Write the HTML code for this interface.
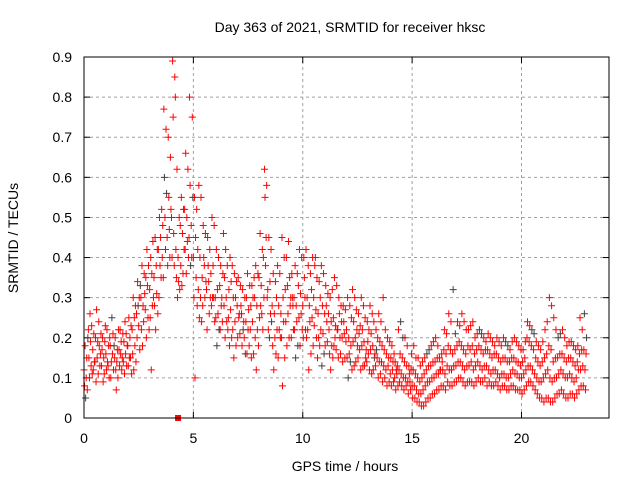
<!DOCTYPE html>
<html><head><meta charset="utf-8"><style>
body{margin:0;background:#fff}
svg text{font-family:"Liberation Sans",sans-serif;font-size:14px;fill:#000}
</style></head><body>
<svg id="chart" width="640" height="480" xmlns="http://www.w3.org/2000/svg">
<rect width="640" height="480" fill="#fff"/>
<text x="350" y="32" text-anchor="middle">Day 363 of 2021, SRMTID for receiver hksc</text>
<text transform="translate(18,238) rotate(-90)" text-anchor="middle">SRMTID / TECUs</text>
<text x="345" y="471" text-anchor="middle">GPS time / hours</text>
<g id="grid"></g>
<g id="ticks"></g>
<g id="points"></g>
<rect x="84" y="57" width="525" height="361" fill="none" stroke="#000" stroke-width="1"/>
</svg>
<script>
const xTicks=[0,5,10,15,20];
const yTicks=[0,0.1,0.2,0.3,0.4,0.5,0.6,0.7,0.8,0.9];
const yTickLabels=["0","0.1","0.2","0.3","0.4","0.5","0.6","0.7","0.8","0.9"];
const times=[0.0,0.2,0.4,0.6,0.8,1.0,1.2,1.4,1.6,1.8,2.0,2.2,2.4,2.6,2.8,3.0,3.2,3.4,3.6,3.8,4.0,4.2,4.4,4.6,4.8,5.0,5.2,5.4,5.6,5.8,6.0,6.2,6.4,6.6,6.8,7.0,7.2,7.4,7.6,7.8,8.0,8.2,8.4,8.6,8.8,9.0,9.2,9.4,9.6,9.8,10.0,10.2,10.4,10.6,10.8,11.0,11.2,11.4,11.6,11.8,12.0,12.2,12.4,12.6,12.8,13.0,13.2,13.4,13.6,13.8,14.0,14.2,14.4,14.6,14.8,15.0,15.2,15.4,15.6,15.8,16.0,16.2,16.4,16.6,16.8,17.0,17.2,17.4,17.6,17.8,18.0,18.2,18.4,18.6,18.8,19.0,19.2,19.4,19.6,19.8,20.0,20.2,20.4,20.6,20.8,21.0,21.2,21.4,21.6,21.8,22.0,22.2,22.4,22.6,22.8];
const obs=[[.12,.08,.18,.05],[.22,.15,.10,.26],[.17,.12,.21,.14],[.15,.19,.11,.24],[.13,.17,.20,.09],[.16,.12,.22,.14],[.18,.10,.14,.25],[.15,.20,.12,.07],[.17,.13,.22,.16],[.14,.19,.11,.24],
[.18,.13,.25,.15],[.22,.16,.30,.12],[.26,.20,.34,.28],[.30,.22,.38,.18],[.27,.35,.20,.42],[.32,.25,.40,.12],[.35,.28,.45,.22],[.42,.30,.50,.38],[.48,.35,.77,.60],[.45,.38,.70,.55],
[.50,.40,.89,.75],[.42,.35,.62,.30],[.48,.38,.55,.33],[.52,.42,.66,.36],[.45,.80,.58,.38],[.40,.30,.55,.10],[.42,.32,.58,.25],[.35,.28,.48,.40],[.32,.22,.45,.38],[.36,.28,.50,.30],
[.30,.25,.42,.18],[.33,.22,.38,.28],[.28,.35,.20,.42],[.25,.32,.18,.40],[.22,.30,.15,.36],[.28,.20,.35,.25],[.26,.18,.32,.22],[.24,.30,.16,.36],[.22,.28,.15,.33],[.30,.20,.38,.12],
[.35,.25,.46,.28],[.40,.30,.62,.55],[.32,.22,.45,.20],[.28,.18,.36,.12],[.30,.22,.38,.15],[.26,.20,.45,.08],[.32,.24,.40,.18],[.35,.28,.30,.20],[.30,.22,.38,.15],[.33,.25,.42,.18],
[.28,.20,.40,.35],[.30,.22,.38,.12],[.32,.25,.40,.18],[.27,.20,.35,.15],[.30,.22,.38,.13],[.26,.18,.33,.28],[.22,.16,.30,.12],[.25,.18,.35,.20],[.22,.15,.30,.26],[.20,.14,.28,.24],
[.22,.15,.30,.10],[.18,.25,.12,.32],[.20,.14,.27,.22],[.17,.23,.12,.30],[.19,.13,.25,.15],[.16,.22,.12,.28],[.18,.12,.24,.15],[.15,.20,.10,.26],[.14,.18,.09,.30],[.12,.16,.08,.20],
[.11,.15,.08,.18],[.10,.14,.07,.12],[.12,.09,.16,.24],[.10,.07,.14,.20],[.09,.06,.13,.11],[.08,.05,.12,.18],[.07,.04,.10,.15],[.06,.03,.10,.14],[.08,.04,.12,.16],[.09,.05,.13,.18],
[.10,.06,.14,.20],[.11,.07,.15,.12],[.12,.08,.17,.22],[.13,.09,.18,.26],[.12,.08,.16,.32],[.13,.09,.18,.24],[.14,.10,.18,.26],[.12,.08,.16,.22],[.13,.09,.17,.23],[.12,.08,.16,.20],
[.14,.10,.18,.22],[.12,.09,.16,.20],[.13,.08,.17,.21],[.11,.08,.15,.19],[.12,.09,.16,.20],[.10,.07,.14,.18],[.11,.08,.15,.19],[.10,.07,.14,.17],[.12,.08,.15,.20],[.11,.07,.14,.18],
[.10,.06,.14,.17],[.12,.08,.20,.24],[.13,.09,.18,.22],[.11,.07,.15,.19],[.09,.05,.13,.17],[.10,.04,.15,.22],[.12,.05,.18,.30],[.09,.04,.14,.25],[.10,.06,.15,.20],[.12,.07,.16,.22],
[.10,.05,.14,.18],[.11,.06,.15,.19],[.09,.05,.13,.17],[.12,.07,.16,.25],[.13,.08,.17,.26]];
const obs2=[[.10,.15,.07,.20],[.19,.13,.23,.11],[.14,.20,.09,.27],[.18,.13,.16,.21],[.15,.11,.19,.23],[.13,.18,.10,.20],[.16,.21,.12,.18],[.14,.17,.10,.22],[.19,.12,.15,.21],[.16,.21,.13,.18],
[.20,.15,.23,.11],[.25,.18,.28,.14],[.23,.30,.17,.33],[.28,.24,.36,.31],[.33,.25,.38,.22],[.36,.28,.44,.30],[.38,.31,.42,.26],[.45,.35,.52,.40],[.50,.42,.72,.56],[.47,.40,.65,.52],
[.46,.38,.85,.80],[.40,.34,.50,.32],[.46,.36,.52,.42],[.50,.44,.62,.40],[.48,.40,.75,.55],[.45,.35,.52,.28],[.40,.30,.55,.24],[.38,.30,.46,.34],[.34,.26,.42,.30],[.38,.30,.48,.24],
[.32,.26,.40,.22],[.30,.24,.36,.46],[.30,.24,.38,.22],[.27,.34,.20,.38],[.24,.30,.18,.34],[.26,.21,.33,.28],[.24,.20,.30,.16],[.22,.27,.18,.33],[.24,.30,.16,.35],[.28,.22,.36,.18],
[.33,.26,.42,.22],[.38,.45,.58,.30],[.34,.26,.42,.24],[.26,.20,.34,.16],[.28,.22,.36,.20],[.30,.24,.40,.15],[.33,.26,.44,.20],[.36,.30,.28,.22],[.28,.24,.36,.18],[.31,.26,.40,.22],
[.30,.22,.42,.20],[.28,.24,.36,.16],[.30,.23,.38,.40],[.26,.20,.34,.18],[.28,.21,.36,.16],[.24,.19,.31,.26],[.24,.18,.32,.15],[.23,.17,.33,.22],[.20,.16,.28,.24],[.21,.15,.27,.19],
[.20,.16,.28,.14],[.19,.24,.13,.30],[.18,.15,.26,.21],[.18,.22,.13,.28],[.17,.14,.24,.19],[.17,.21,.11,.26],[.16,.13,.22,.17],[.14,.19,.11,.24],[.13,.17,.10,.22],[.13,.15,.09,.19],
[.12,.14,.09,.16],[.11,.13,.08,.22],[.11,.08,.15,.20],[.10,.08,.13,.18],[.09,.07,.12,.16],[.08,.05,.11,.15],[.06,.04,.09,.13],[.07,.03,.11,.15],[.09,.05,.13,.17],[.10,.06,.14,.19],
[.11,.07,.15,.18],[.12,.08,.16,.14],[.11,.07,.16,.21],[.12,.08,.17,.24],[.13,.09,.17,.21],[.14,.10,.19,.23],[.13,.09,.17,.24],[.13,.09,.18,.22],[.14,.09,.18,.24],[.13,.09,.17,.21],
[.13,.09,.17,.21],[.13,.10,.17,.19],[.12,.09,.16,.20],[.12,.08,.16,.18],[.11,.08,.15,.19],[.11,.08,.15,.20],[.10,.07,.14,.18],[.11,.08,.15,.19],[.11,.07,.14,.19],[.10,.07,.13,.17],
[.11,.07,.15,.19],[.13,.09,.19,.23],[.12,.08,.17,.21],[.10,.06,.14,.18],[.09,.05,.14,.19],[.11,.05,.16,.24],[.10,.04,.17,.28],[.10,.05,.15,.22],[.11,.06,.16,.21],[.11,.06,.15,.20],
[.10,.05,.15,.19],[.10,.06,.14,.18],[.10,.06,.14,.18],[.12,.08,.17,.22],[.12,.07,.16,.20]];
const markerTime=[4.3];
const markerValue=[0];

const X0=84,X1=609,Y0=418,Y1=57,XMAX=24,YMAX=0.9;
const sx=v=>X0+(v/XMAX)*(X1-X0);
const sy=v=>Y0-(v/YMAX)*(Y0-Y1);
const NS="http://www.w3.org/2000/svg";
function mk(tag,attrs,parent){const e=document.createElementNS(NS,tag);for(const k in attrs)e.setAttribute(k,attrs[k]);parent.appendChild(e);return e;}
const grid=document.getElementById('grid'),ticks=document.getElementById('ticks'),pts=document.getElementById('points');
yTicks.forEach((v,i)=>{
  const y=sy(v);
  if(i>0&&i<yTicks.length-1){const g=mk('line',{x1:X0,x2:X1,y1:y,y2:y,stroke:'#a0a0a0','stroke-dasharray':'3,3'},grid);
  
  }
  mk('line',{x1:X0,x2:X0+6,y1:y,y2:y,stroke:'#000'},ticks);
  mk('line',{x1:X1,x2:X1-6,y1:y,y2:y,stroke:'#000'},ticks);
  const t=mk('text',{x:X0-12,y:y+5,'text-anchor':'end'},ticks);t.textContent=yTickLabels[i];
  
  
});
xTicks.forEach(v=>{
  const x=sx(v);
  if(v>0){const g=mk('line',{x1:x,x2:x,y1:Y0,y2:Y1,stroke:'#a0a0a0','stroke-dasharray':'3,3'},grid);
  
  }
  mk('line',{x1:x,x2:x,y1:Y0,y2:Y0-6,stroke:'#000'},ticks);
  mk('line',{x1:x,x2:x,y1:Y1,y2:Y1+6,stroke:'#000'},ticks);
  const t=mk('text',{x:x,y:Y0+25,'text-anchor':'middle'},ticks);t.textContent=String(v);
  
  
});
function plotSet(set,offset){
  times.forEach((t,i)=>{
    set[i].forEach((v,k)=>{
      const x=sx(t+offset+k*0.025),y=sy(v);
      const p=mk('path',{d:`M${x-3.5},${y}h7M${x},${y-3.5}v7`,stroke:(k===3&&i%6===0)?'#404040':'#ff0000','stroke-width':1,fill:'none'},pts);
      
      
    });
  });
}
plotSet(obs,0);
plotSet(obs2,0.1);
markerTime.forEach((t,i)=>{
  const r=mk('rect',{x:sx(t)-3,y:sy(markerValue[i])-3,width:6,height:6,fill:'#ff0000'},pts);
  
  
});
</script>
</body></html>
